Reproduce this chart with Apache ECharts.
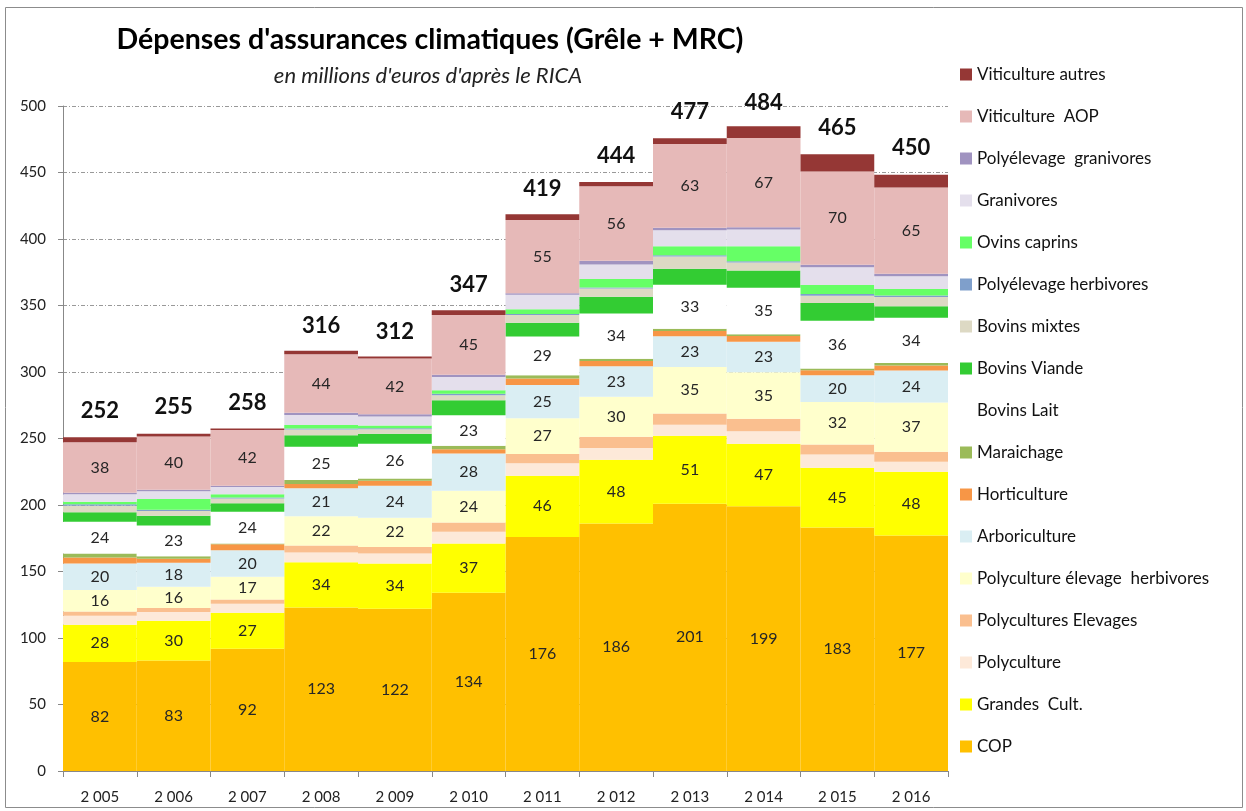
<!DOCTYPE html>
<html>
<head>
<meta charset="utf-8">
<script src="https://cdn.jsdelivr.net/npm/echarts@6/dist/echarts.min.js"></script>
<style>
html,body{margin:0;padding:0;background:#fff;}
#chart{width:1246px;height:811px;}
</style>
</head>
<body>
<div id="chart"></div>
<script>
const years = ['2 005','2 006','2 007','2 008','2 009','2 010','2 011','2 012','2 013','2 014','2 015','2 016'];
const totals = [252,255,258,316,312,347,419,444,477,484,465,450];

const cop          = [82,83,92,123,122,134,176,186,201,199,183,177];
const grandesCult  = [28,30,27,34,34,37,46,48,51,47,45,48];
const polyculture  = [6.8,6.5,6.8,7.3,7.5,8.8,9.3,8.8,8.3,9.5,10,7.6];
const polyElevages = [3.2,3,3.2,5.3,5,7,7,8.5,8.5,9.3,7.5,7.5];
const polyElevHerb = [16,16,17,22,22,24,27,30,35,35,32,37];
const arboriculture= [20,18,20,21,24,28,25,23,23,23,20,24];
const horticulture = [4.5,3,4.5,3.2,3.8,3.2,4.8,4,4,4.3,3.8,3.8];
const maraichage   = [3,2,0.5,3,1.7,2.5,2.5,1.7,1.8,1.2,1.3,1.8];
const bovinsLait   = [24,23,24,25,26,23,29,34,33,35,36,34];
const bovinsViande = [7,7.5,6.3,8.7,7.5,11.3,10.5,12.5,12,13,13.3,8.8];
const bovinsMixtes = [5,3.5,3.5,4.3,3.5,3.7,5.8,6.3,9.3,6,5.5,6.8];
const polyelevHerb = [1,1,0.8,0.8,0.7,1.2,0.8,0.8,0.8,1,1.2,1.2];
const ovinsCaprins = [2,8,2.5,2.5,2,2.5,3.5,6.3,6.8,11.3,6.8,5];
const granivores   = [5.5,5.8,5.5,7.5,6.8,10,10.8,11,12,12.5,13.3,9.5];
const polyelevGran = [1.2,1.2,0.8,1.8,1.7,1.7,1.3,2.7,2,1.8,2,1.8];
const vitiAOP      = [38,40,42,44,42,45,55,56,63,67,70,65];
const vitiAutres   = [3.8,2,1.2,2.5,1.5,3.5,4.3,3.3,4.3,8.8,13,9.5];
const yTicks = [0,50,100,150,200,250,300,350,400,450,500];

// bottom to top
const seriesDefs = [
  ['COP', cop, '#FFC000', true],
  ['Grandes  Cult.', grandesCult, '#FFFF00', true],
  ['Polyculture', polyculture, '#FDE9D9', false],
  ['Polycultures Elevages', polyElevages, '#FABF8F', false],
  ['Polyculture élevage  herbivores', polyElevHerb, '#FFFFCC', true],
  ['Arboriculture', arboriculture, '#DAEEF3', true],
  ['Horticulture', horticulture, '#F79646', false],
  ['Maraichage', maraichage, '#9BBB59', false],
  ['Bovins Lait', bovinsLait, '#FFFFFF', true],
  ['Bovins Viande', bovinsViande, '#33CC33', false],
  ['Bovins mixtes', bovinsMixtes, '#DDD9C4', false],
  ['Polyélevage herbivores', polyelevHerb, '#7F9FCB', false],
  ['Ovins caprins', ovinsCaprins, '#66FF66', false],
  ['Granivores', granivores, '#E4DFEC', false],
  ['Polyélevage  granivores', polyelevGran, '#A093C0', false],
  ['Viticulture  AOP', vitiAOP, '#E6B9B8', true],
  ['Viticulture autres', vitiAutres, '#953735', false]
];

const FONT = 'Lato, "Open Sans", sans-serif';

const series = seriesDefs.map(([name, data, color, lab]) => ({
  name, type: 'bar', stack: 'total', data,
  barCategoryGap: '0%',
  itemStyle: { color },
  label: { show: lab, position: 'inside', color: '#262626', fontSize: 16, fontFamily: FONT },
  emphasis: { disabled: true }
}));

series.push({
  name: 'Total', type: 'line', data: totals,
  symbol: 'circle', symbolSize: 1,
  itemStyle: { color: 'rgba(0,0,0,0)' },
  lineStyle: { width: 0, opacity: 0 },
  label: { show: true, position: 'top', distance: 13, fontSize: 22, fontWeight: 'bold', color: '#111', fontFamily: FONT },
  z: 10, silent: true
});

const chart = echarts.init(document.getElementById('chart'), null, { renderer: 'canvas' });
chart.setOption({
  animation: false,
  backgroundColor: '#fff',
  textStyle: { fontFamily: FONT },
  title: [
    { text: "Dépenses d'assurances climatiques (Grêle + MRC)", left: 425, top: 20, textAlign: 'center',
      textStyle: { fontSize: 28.5, fontWeight: 'bold', color: '#000', fontFamily: FONT } },
    { text: "en millions d'euros d'après le RICA", left: 423, top: 60, textAlign: 'center',
      textStyle: { fontSize: 22, fontStyle: 'italic', fontWeight: 'normal', color: '#222', fontFamily: FONT } }
  ],
  legend: {
    orient: 'vertical', left: 955, top: 61,
    itemWidth: 12, itemHeight: 12, itemGap: 25, icon: 'rect',
    textStyle: { fontSize: 17, color: '#111', lineHeight: 17, fontFamily: FONT },
    data: seriesDefs.map(d => d[0]).reverse(),
    selectedMode: false
  },
  grid: { left: 63, top: 106, width: 885, height: 665, containLabel: false },
  xAxis: {
    type: 'category', data: years,
    axisLine: { lineStyle: { color: '#888' } },
    axisTick: { show: true, length: 6, lineStyle: { color: '#888' } },
    axisLabel: { color: '#222', fontSize: 15, margin: 19, fontFamily: FONT }
  },
  yAxis: {
    type: 'value', min: yTicks[0], max: yTicks[yTicks.length - 1], interval: 50,
    axisLine: { show: true, lineStyle: { color: '#888' } },
    axisTick: { show: true, length: 5, lineStyle: { color: '#888' } },
    axisLabel: { color: '#222', fontSize: 15, margin: 17, fontFamily: FONT },
    splitLine: { lineStyle: { color: '#999', type: [4, 2, 1, 2], width: 1 } }
  },
  graphic: [
    { type: 'rect', shape: { x: 5.5, y: 7.5, width: 1237, height: 800 }, style: { fill: 'none', stroke: '#8c8c8c', lineWidth: 1 }, silent: true, z: -1 }
  ],
  series
});
</script>
</body>
</html>
